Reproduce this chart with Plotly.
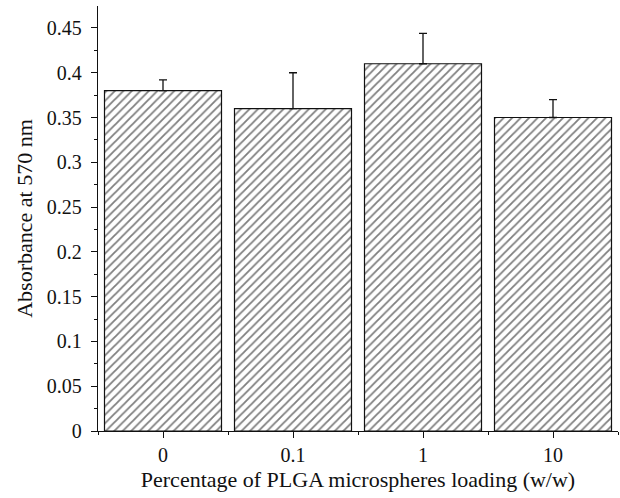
import plotly.graph_objects as go

categories = ["0", "0.1", "1", "10"]
values = [0.38, 0.36, 0.41, 0.35]
errors = [0.012, 0.040, 0.034, 0.020]
positions = [0, 1, 2, 3]

fig = go.Figure()
fig.add_trace(go.Bar(
    x=positions, y=values, width=0.9,
    marker=dict(color="white", line=dict(color="#111", width=1.2),
                pattern=dict(shape="/", size=6, solidity=0.3, fgcolor="#000", bgcolor="white")),
    error_y=dict(type="data", array=errors, symmetric=False, arrayminus=[0]*4,
                 color="#111", thickness=1.3, width=4),
))

tickfont = dict(family="Liberation Serif", size=20, color="#111")
titlefont = dict(family="Liberation Serif", size=22, color="#111")
fig.update_layout(
    width=620, height=498, margin=dict(l=98, r=2, t=6, b=67),
    plot_bgcolor="white", paper_bgcolor="white", showlegend=False, font=tickfont,
    xaxis=dict(range=[-0.5, 3.5], tickvals=positions, ticktext=categories, automargin=False,
               tickfont=tickfont,
               showline=True, linecolor="#111", linewidth=1.3, ticks="outside", ticklen=6,
               tickcolor="#111", tickwidth=1.3, showgrid=False, zeroline=False,
               minor=dict(tickvals=[-0.5, 0.5, 1.5, 2.5, 3.5], ticks="outside", ticklen=3, tickcolor="#111", tickwidth=1.3),
               title=dict(text="Percentage of PLGA microspheres loading (w/w)", standoff=6, font=titlefont)),
    yaxis=dict(range=[0, 0.4745], tickvals=[0, 0.05, 0.1, 0.15, 0.2, 0.25, 0.3, 0.35, 0.4, 0.45],
               ticktext=["0", "0.05", "0.1", "0.15", "0.2", "0.25", "0.3", "0.35", "0.4", "0.45"],
               automargin=False, tickfont=tickfont, ticklabelstandoff=5,
               showline=True, linecolor="#111", linewidth=1.3, ticks="outside", ticklen=6,
               tickcolor="#111", tickwidth=1.3, showgrid=False, zeroline=False,
               minor=dict(dtick=0.025, tick0=0, ticks="outside", ticklen=3, tickcolor="#111", tickwidth=1.3),
               title=dict(text="Absorbance at 570 nm", standoff=8, font=titlefont)),
)
fig.write_html("out.html", config={"displayModeBar": False},
               post_script="document.body.style.margin='0';document.body.style.overflow='hidden';")
